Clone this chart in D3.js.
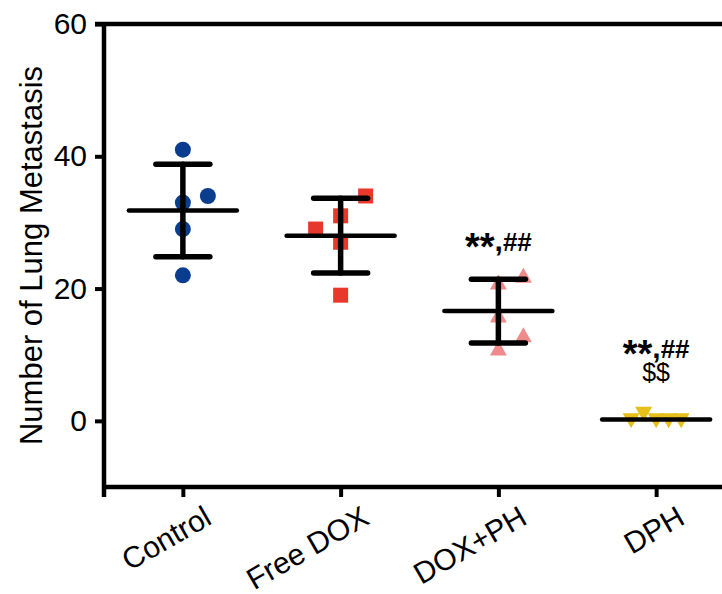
<!DOCTYPE html>
<html>
<head>
<meta charset="utf-8">
<script src="https://cdn.jsdelivr.net/npm/d3@7"></script>
<style>
  html, body { margin: 0; padding: 0; background: #fff; }
  svg { display: block; }
  text { font-family: "Liberation Sans", Arial, Helvetica, sans-serif; fill: #000; }
</style>
</head>
<body>
<svg id="chart" width="722" height="594"></svg>
<script>
// ---- data -------------------------------------------------------------
const groups = ["Control", "Free DOX", "DOX+PH", "DPH"];

const controlValues = [41, 34, 33, 29, 22];
const freeDoxValues = [34, 31, 29, 27, 19];
const doxPhValues   = [22, 21, 16, 13, 11];
const dphValues     = [1, 0, 0, 0, 0];

// lane of each dot (0 = on the column, ±n = pushed aside where dots crowd)
const controlLanes = [0, 2, 0, 0, 0];
const freeDoxLanes = [2, 0, -2, 0, 0];
const doxPhLanes   = [2, 0, 0, 2, 0];
const dphLanes     = [-1, -2, 0, 1, 2];

const yTicks = [0, 20, 40, 60];
const yTitle = "Number of Lung Metastasis";

// significance marks printed above each column (top line first)
const significance = [[], [], ["**,##"], ["**,##", "$$"]];

// ---- layout -----------------------------------------------------------
const svg = d3.select("#chart");
const plotLeft = 104, plotRight = 735, plotTop = 24, plotBottom = 487;

const y = d3.scaleLinear().domain([-10, 60]).range([plotBottom, plotTop]);
const x = d3.scalePoint().domain(groups).range([plotLeft, plotRight]).padding(0.5);

const laneStep = 12.5;

const series = [
  { name: groups[0], values: controlValues, lanes: controlLanes, shape: "circle",  color: "#0b3d8e" },
  { name: groups[1], values: freeDoxValues, lanes: freeDoxLanes, shape: "square",  color: "#e8382c" },
  { name: groups[2], values: doxPhValues,   lanes: doxPhLanes,   shape: "triUp",   color: "#f08b8b" },
  { name: groups[3], values: dphValues,     lanes: dphLanes,     shape: "triDown", color: "#e6bf1a" }
];

function symbolPath(shape) {
  switch (shape) {
    case "circle":  return "M8,0A8,8 0 1,1 -8,0A8,8 0 1,1 8,0Z";
    case "square":  return "M-7.5,-7.5H7.5V7.5H-7.5Z";
    case "triUp":   return "M0,-7.5L8.5,7.5L-8.5,7.5Z";
    case "triDown": return "M0,7.5L8.5,-7.5L-8.5,-7.5Z";
  }
}

// ---- frame ------------------------------------------------------------
const frame = svg.append("g").attr("stroke", "#000").attr("stroke-width", 4.5).attr("fill", "none");
frame.append("line").attr("x1", plotLeft - 9).attr("x2", plotRight).attr("y1", y(60)).attr("y2", y(60));
frame.append("line").attr("x1", plotLeft).attr("x2", plotRight).attr("y1", plotBottom).attr("y2", plotBottom);
frame.append("line").attr("x1", plotLeft).attr("x2", plotLeft).attr("y1", plotTop).attr("y2", plotBottom + 10);
frame.append("line").attr("x1", plotRight).attr("x2", plotRight).attr("y1", plotTop).attr("y2", plotBottom);

// ---- axes -------------------------------------------------------------
const yAxis = svg.append("g")
  .attr("transform", `translate(${plotLeft},0)`)
  .call(d3.axisLeft(y).tickValues(yTicks).tickSize(9).tickPadding(8));
yAxis.select(".domain").remove();
yAxis.selectAll(".tick line").attr("stroke", "#000").attr("stroke-width", 4);
yAxis.selectAll(".tick text").attr("font-size", 30).attr("font-family", null).attr("fill", "#000");

const xAxis = svg.append("g")
  .attr("transform", `translate(0,${plotBottom})`)
  .call(d3.axisBottom(x).tickSize(10).tickPadding(0));
xAxis.select(".domain").remove();
xAxis.selectAll(".tick line").attr("stroke", "#000").attr("stroke-width", 4);
xAxis.selectAll(".tick text")
  .attr("font-size", 30)
  .attr("font-family", null)
  .attr("fill", "#000")
  .attr("text-anchor", "end")
  .attr("dy", null)
  .attr("y", 0)
  .attr("transform", "translate(30,36) rotate(-30)");

svg.append("text")
  .attr("transform", `translate(42,${(plotTop + plotBottom) / 2}) rotate(-90)`)
  .attr("text-anchor", "middle")
  .attr("font-size", 31)
  .text(yTitle);

// ---- dots -------------------------------------------------------------
series.forEach(s => {
  svg.append("g").selectAll("path")
    .data(s.values.map((v, i) => ({ v, lane: s.lanes[i] })))
    .join("path")
    .attr("d", symbolPath(s.shape))
    .attr("fill", s.color)
    .attr("transform", d => `translate(${x(s.name) + d.lane * laneStep},${y(d.v)})`);
});

// ---- mean ± SD --------------------------------------------------------
const stats = series.map(s => {
  const m = d3.mean(s.values), sd = d3.deviation(s.values);
  return { name: s.name, mean: m, lo: m - sd, hi: m + sd };
});

const bars = svg.append("g").attr("stroke", "#000").attr("stroke-linecap", "round");
stats.forEach(st => {
  const cx = x(st.name);
  // SD bars too short to clear the mean line are left out
  if (y(st.lo) - y(st.hi) > 10) {
    bars.append("line").attr("x1", cx).attr("x2", cx).attr("y1", y(st.hi)).attr("y2", y(st.lo)).attr("stroke-width", 5.5);
    bars.append("line").attr("x1", cx - 27).attr("x2", cx + 27).attr("y1", y(st.hi)).attr("y2", y(st.hi)).attr("stroke-width", 5.5);
    bars.append("line").attr("x1", cx - 27).attr("x2", cx + 27).attr("y1", y(st.lo)).attr("y2", y(st.lo)).attr("stroke-width", 5.5);
  }
  bars.append("line").attr("x1", cx - 54).attr("x2", cx + 54).attr("y1", y(st.mean)).attr("y2", y(st.mean)).attr("stroke-width", 4.5);
});

// ---- significance marks ----------------------------------------------
stats.forEach((st, gi) => {
  const lines = significance[gi];
  if (!lines.length) return;
  const base = y(st.hi) - 28 - 8 * (lines.length - 1);
  lines.forEach((t, k) => {
    const txt = svg.append("text")
      .attr("x", x(st.name))
      .attr("y", base - (lines.length - 1 - k) * 23)
      .attr("text-anchor", "middle");
    // large heavy asterisks, bold comma, smaller hashes / dollar signs
    (t.match(/\*+|,|[^*,]+/g) || []).forEach(run => {
      const ts = txt.append("tspan").text(run);
      if (run[0] === "*") {
        ts.attr("font-size", 38).attr("font-weight", "bold").attr("dy", 9);
      } else if (run === ",") {
        ts.attr("font-size", 30).attr("font-weight", "bold").attr("dy", -9);
      } else if (run[0] === "#") {
        ts.attr("font-size", 26).attr("font-weight", "bold");
      } else {
        ts.attr("font-size", 25).attr("font-weight", "normal");
      }
    });
  });
});
</script>
</body>
</html>
